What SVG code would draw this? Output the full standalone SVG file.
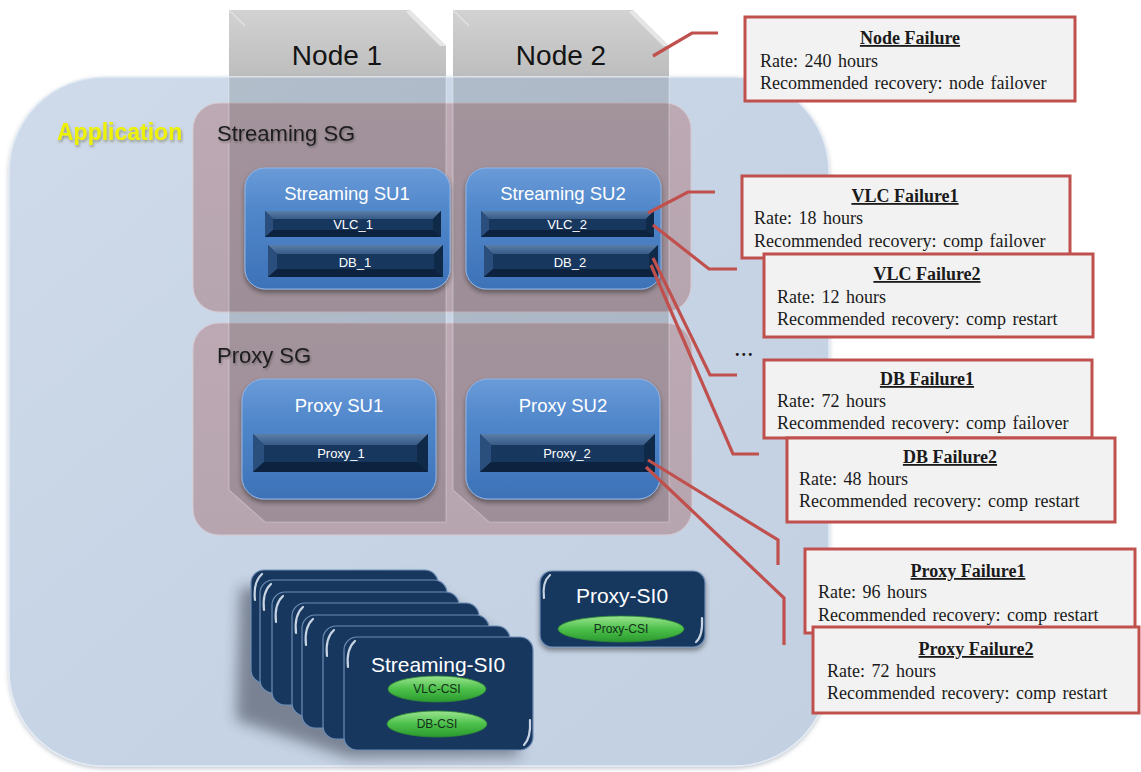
<svg xmlns="http://www.w3.org/2000/svg" width="1141" height="772" viewBox="0 0 1141 772">
  <defs>
    <linearGradient id="gNodeTop" x1="0" y1="0" x2="0" y2="1">
      <stop offset="0" stop-color="#d2d2d2"/>
      <stop offset="1" stop-color="#b0b0b0"/>
    </linearGradient>
    <linearGradient id="gApp" x1="0" y1="0" x2="1" y2="1">
      <stop offset="0" stop-color="#cfdbea"/>
      <stop offset="0.5" stop-color="#c7d4e5"/>
      <stop offset="1" stop-color="#c3d0e1"/>
    </linearGradient>
    <linearGradient id="gSG" x1="0" y1="0" x2="0" y2="1">
      <stop offset="0" stop-color="#bca9b3"/>
      <stop offset="1" stop-color="#b6a4ae"/>
    </linearGradient>
    <linearGradient id="gSU" x1="0" y1="0" x2="0" y2="1">
      <stop offset="0" stop-color="#6a9bd8"/>
      <stop offset="0.35" stop-color="#5087cb"/>
      <stop offset="1" stop-color="#3d72b8"/>
    </linearGradient>
    <linearGradient id="gBarTop" x1="0" y1="0" x2="0" y2="1">
      <stop offset="0" stop-color="#5a7ea8"/>
      <stop offset="1" stop-color="#375b86"/>
    </linearGradient>
    <linearGradient id="gCSI" x1="0" y1="0" x2="0" y2="1">
      <stop offset="0" stop-color="#9be48f"/>
      <stop offset="0.5" stop-color="#4cc04a"/>
      <stop offset="1" stop-color="#2a9a2e"/>
    </linearGradient>
    <filter id="fShadow" x="-20%" y="-20%" width="140%" height="150%">
      <feDropShadow dx="0" dy="3" stdDeviation="2.5" flood-color="#000" flood-opacity="0.4"/>
    </filter>
    <filter id="fSoft" x="-20%" y="-20%" width="140%" height="140%">
      <feDropShadow dx="0" dy="2" stdDeviation="2" flood-color="#5a6a80" flood-opacity="0.35"/>
    </filter>
    <filter id="fStackShadow" x="-40%" y="-40%" width="180%" height="180%">
      <feGaussianBlur stdDeviation="7"/>
    </filter>
    <filter id="fGlow" x="-10%" y="-30%" width="120%" height="160%">
      <feDropShadow dx="1" dy="2" stdDeviation="1.5" flood-color="#6b6b40" flood-opacity="0.6"/>
    </filter>
    <filter id="fTextShadow" x="-10%" y="-30%" width="120%" height="160%">
      <feDropShadow dx="1" dy="1.5" stdDeviation="1" flood-color="#000" flood-opacity="0.3"/>
    </filter>
    <style>
      .sans { font-family: "Liberation Sans", Arial, sans-serif; }
      .serif { font-family: "Liberation Serif", "Times New Roman", serif; }
      .nodeLabel { font-size: 28px; fill: #141414; text-anchor: middle; }
      .sgLabel { font-size: 22px; fill: #1e1e1e; }
      .suLabel { font-size: 18.5px; fill: #ffffff; text-anchor: middle; }
      .compLabel { font-size: 13px; fill: #ffffff; text-anchor: middle; }
      .siLabel { font-size: 21px; fill: #ffffff; text-anchor: middle; }
      .csiLabel { font-size: 12px; fill: #13301a; text-anchor: middle; }
      .su { fill: url(#gSU); stroke: #8db4e6; stroke-width: 1; }
      .barBase { fill: #17375e; }
      .barTop { fill: url(#gBarTop); }
      .barLeft { fill: #2a4f7c; }
      .barRight { fill: #0f2949; }
      .barBottom { fill: #0c223f; }
      .card { fill: #17375e; stroke: #6e8db5; stroke-width: 1.2; }
      .gleam { fill: none; stroke: #e8f0fa; stroke-width: 2.2; stroke-linecap: round; opacity: 0.85; }
      .csi { fill: url(#gCSI); stroke: #2e8a33; stroke-width: 0.8; }
      .box { fill: #f2f2f2; stroke: #c0504d; stroke-width: 3; }
      .boxTitle { font-size: 18px; font-weight: bold; text-decoration: underline; fill: #1a1a1a; text-anchor: middle; }
      .boxText { font-size: 18px; fill: #1a1a1a; word-spacing: 2px; }
      .link { fill: none; stroke: #c0504d; stroke-width: 3.2; stroke-linejoin: miter; }
      .colOverlay { fill: #000000; fill-opacity: 0.13; stroke: #ffffff; stroke-opacity: 0.28; stroke-width: 1.2; }
    </style>
  </defs>

  <rect width="1141" height="772" fill="#ffffff"/>

  <!-- Node columns: header part above the application area -->
  <g id="node1">
    <polygon points="229,10 410,10 446,46 446,120 229,120" fill="url(#gNodeTop)"/>
    <polygon points="410,10 446,46 440,46 406,12" fill="#e6e6e6"/>
    <line x1="229" y1="10" x2="245" y2="26" stroke="#e2e2e2" stroke-width="1.5"/>
    <text class="sans nodeLabel" x="337" y="65">Node 1</text>
  </g>
  <g id="node2">
    <polygon points="453,10 633,10 669,46 669,120 453,120" fill="url(#gNodeTop)"/>
    <polygon points="633,10 669,46 663,46 629,12" fill="#e6e6e6"/>
    <line x1="453" y1="10" x2="469" y2="26" stroke="#e2e2e2" stroke-width="1.5"/>
    <text class="sans nodeLabel" x="561" y="65">Node 2</text>
  </g>

  <!-- Application container -->
  <g id="application">
    <rect x="9" y="77" width="820" height="689" rx="95" ry="95" fill="url(#gApp)" stroke="#e4ecf6" stroke-width="1.5" filter="url(#fSoft)"/>
    <text class="sans" x="57" y="140" font-size="23" font-weight="bold" fill="#eef200" filter="url(#fGlow)">Application</text>
  </g>

  <!-- Service groups -->
  <g id="streaming-sg">
    <rect x="193" y="103" width="498" height="209" rx="26" ry="26" fill="url(#gSG)" stroke="#d6c9d0" stroke-width="1"/>
  </g>
  <g id="proxy-sg">
    <rect x="193" y="323" width="499" height="212" rx="26" ry="26" fill="url(#gSG)" stroke="#d6c9d0" stroke-width="1"/>
  </g>

  <!-- Node columns continuing over the groups -->
  <g id="node-columns">
    <polygon class="colOverlay" points="229,77 446,77 446,522 265,522 229,490"/>
    <polygon class="colOverlay" points="453,77 669,77 669,522 489,522 453,490"/>
  </g>

  <g id="sg-labels">
    <text class="sans sgLabel" x="217" y="141" filter="url(#fTextShadow)">Streaming SG</text>
    <text class="sans sgLabel" x="217" y="363" filter="url(#fTextShadow)">Proxy SG</text>
  </g>

  <!-- Service units -->
  <g id="streaming-su1">
    <rect class="su" x="245" y="168" width="205" height="121" rx="20" ry="20" filter="url(#fShadow)"/>
    <text class="sans suLabel" x="347" y="200">Streaming SU1</text>
    <g id="vlc1">
      <rect class="barBase" x="265" y="211" width="176" height="26"/>
      <polygon class="barTop" points="265,211 441,211 433,219 273,219"/>
      <polygon class="barLeft" points="265,211 273,219 273,230 265,237"/>
      <polygon class="barRight" points="441,211 441,237 433,230 433,219"/>
      <polygon class="barBottom" points="265,237 273,230 433,230 441,237"/>
      <text class="sans compLabel" x="353" y="229">VLC_1</text>
    </g>
    <g id="db1">
      <rect class="barBase" x="268" y="245" width="175" height="32"/>
      <polygon class="barTop" points="268,245 443,245 434,254 277,254"/>
      <polygon class="barLeft" points="268,245 277,254 277,269 268,277"/>
      <polygon class="barRight" points="443,245 443,277 434,269 434,254"/>
      <polygon class="barBottom" points="268,277 277,269 434,269 443,277"/>
      <text class="sans compLabel" x="355" y="267">DB_1</text>
    </g>
  </g>

  <g id="streaming-su2">
    <rect class="su" x="466" y="168" width="195" height="121" rx="20" ry="20" filter="url(#fShadow)"/>
    <text class="sans suLabel" x="563" y="200">Streaming SU2</text>
    <g id="vlc2">
      <rect class="barBase" x="481" y="211" width="173" height="26"/>
      <polygon class="barTop" points="481,211 654,211 646,219 489,219"/>
      <polygon class="barLeft" points="481,211 489,219 489,230 481,237"/>
      <polygon class="barRight" points="654,211 654,237 646,230 646,219"/>
      <polygon class="barBottom" points="481,237 489,230 646,230 654,237"/>
      <text class="sans compLabel" x="567" y="229">VLC_2</text>
    </g>
    <g id="db2">
      <rect class="barBase" x="484" y="245" width="174" height="32"/>
      <polygon class="barTop" points="484,245 658,245 649,254 493,254"/>
      <polygon class="barLeft" points="484,245 493,254 493,269 484,277"/>
      <polygon class="barRight" points="658,245 658,277 649,269 649,254"/>
      <polygon class="barBottom" points="484,277 493,269 649,269 658,277"/>
      <text class="sans compLabel" x="570" y="267">DB_2</text>
    </g>
  </g>

  <g id="proxy-su1">
    <rect class="su" x="242" y="379" width="194" height="120" rx="22" ry="22" filter="url(#fShadow)"/>
    <text class="sans suLabel" x="339" y="412">Proxy SU1</text>
    <g id="proxy1">
      <rect class="barBase" x="253" y="434" width="175" height="38"/>
      <polygon class="barTop" points="253,434 428,434 417,445 264,445"/>
      <polygon class="barLeft" points="253,434 264,445 264,462 253,472"/>
      <polygon class="barRight" points="428,434 428,472 417,462 417,445"/>
      <polygon class="barBottom" points="253,472 264,462 417,462 428,472"/>
      <text class="sans compLabel" x="341" y="458" font-size="14">Proxy_1</text>
    </g>
  </g>

  <g id="proxy-su2">
    <rect class="su" x="466" y="379" width="194" height="120" rx="22" ry="22" filter="url(#fShadow)"/>
    <text class="sans suLabel" x="563" y="412">Proxy SU2</text>
    <g id="proxy2">
      <rect class="barBase" x="480" y="434" width="175" height="38"/>
      <polygon class="barTop" points="480,434 655,434 644,445 491,445"/>
      <polygon class="barLeft" points="480,434 491,445 491,462 480,472"/>
      <polygon class="barRight" points="655,434 655,472 644,462 644,445"/>
      <polygon class="barBottom" points="480,472 491,462 644,462 655,472"/>
      <text class="sans compLabel" x="567" y="458" font-size="14">Proxy_2</text>
    </g>
  </g>

  <!-- Service instances -->
  <g id="streaming-si-stack">
    <path d="M240,588 L420,580 L500,640 L520,756 L350,758 L236,720 Z" fill="#1b2330" opacity="0.45" filter="url(#fStackShadow)"/>
    <rect class="card" x="251" y="570" width="187" height="113" rx="13"/>
    <path class="gleam" d="M255,600 Q253,582 262,574"/>
    <rect class="card" x="260" y="580" width="187" height="113" rx="13"/>
    <path class="gleam" d="M264,610 Q262,592 271,584"/>
    <rect class="card" x="272" y="592" width="187" height="113" rx="13"/>
    <path class="gleam" d="M276,622 Q274,604 283,596"/>
    <rect class="card" x="292" y="603" width="187" height="113" rx="13"/>
    <path class="gleam" d="M296,633 Q294,615 303,607"/>
    <rect class="card" x="302" y="615" width="187" height="113" rx="13"/>
    <path class="gleam" d="M306,645 Q304,627 313,619"/>
    <rect class="card" x="323" y="626" width="187" height="113" rx="13"/>
    <path class="gleam" d="M327,656 Q325,638 334,630"/>
  </g>
  <g id="streaming-si0">
    <rect class="card" x="344" y="637" width="189" height="113" rx="13"/>
    <path class="gleam" d="M348,667 Q346,649 355,641"/>
    <path class="gleam" d="M530,720 Q531,738 524,745"/>
    <text class="sans siLabel" x="438" y="672">Streaming-SI0</text>
    <ellipse class="csi" cx="437" cy="689" rx="49" ry="13"/>
    <text class="sans csiLabel" x="437" y="693">VLC-CSI</text>
    <ellipse class="csi" cx="437" cy="724" rx="50" ry="13"/>
    <text class="sans csiLabel" x="437" y="728">DB-CSI</text>
  </g>
  <g id="proxy-si0">
    <rect class="card" x="540" y="571" width="165" height="76" rx="12" filter="url(#fShadow)"/>
    <path class="gleam" d="M544,598 Q542,582 550,575"/>
    <path class="gleam" d="M702,618 Q703,636 696,642"/>
    <text class="sans siLabel" x="622" y="603">Proxy-SI0</text>
    <ellipse class="csi" cx="621" cy="629" rx="63" ry="13"/>
    <text class="sans csiLabel" x="621" y="633">Proxy-CSI</text>
  </g>

  <!-- Connectors from components to failure notes -->
  <g id="connectors">
    <polyline class="link" points="653,56 692,33 718,33"/>
    <polyline class="link" points="648,213 688,192 715,192"/>
    <polyline class="link" points="653,225 709,269 737,269"/>
    <polyline class="link" points="653,258 710,375 737,375"/>
    <polyline class="link" points="651,265 733,454 759,454"/>
    <polyline class="link" points="648,460 778,540 778,565"/>
    <polyline class="link" points="646,467 784,598 784,645"/>
  </g>

  <text class="serif" x="735" y="356" font-size="18" font-weight="bold" fill="#1a1a1a" letter-spacing="2">...</text>

  <!-- Failure notes -->
  <g id="node-failure">
    <rect class="box" x="745" y="17" width="330" height="84"/>
    <text class="serif boxTitle" x="910" y="44">Node Failure</text>
    <text class="serif boxText" x="760" y="67">Rate: 240  hours</text>
    <text class="serif boxText" x="760" y="89">Recommended recovery: node failover</text>
  </g>
  <g id="vlc-failure1">
    <rect class="box" x="742" y="176" width="328" height="82"/>
    <text class="serif boxTitle" x="905" y="202">VLC Failure1</text>
    <text class="serif boxText" x="754" y="224">Rate: 18 hours</text>
    <text class="serif boxText" x="754" y="247">Recommended recovery: comp failover</text>
  </g>
  <g id="vlc-failure2">
    <rect class="box" x="764" y="254" width="329" height="83"/>
    <text class="serif boxTitle" x="927" y="280">VLC Failure2</text>
    <text class="serif boxText" x="777" y="303">Rate: 12 hours</text>
    <text class="serif boxText" x="777" y="325">Recommended recovery: comp restart</text>
  </g>
  <g id="db-failure1">
    <rect class="box" x="764" y="360" width="328" height="78"/>
    <text class="serif boxTitle" x="927" y="385">DB Failure1</text>
    <text class="serif boxText" x="777" y="407">Rate: 72 hours</text>
    <text class="serif boxText" x="777" y="429">Recommended recovery: comp failover</text>
  </g>
  <g id="db-failure2">
    <rect class="box" x="787" y="438" width="328" height="84"/>
    <text class="serif boxTitle" x="950" y="463">DB Failure2</text>
    <text class="serif boxText" x="799" y="485">Rate: 48 hours</text>
    <text class="serif boxText" x="799" y="507">Recommended recovery: comp restart</text>
  </g>
  <g id="proxy-failure1">
    <rect class="box" x="805" y="549" width="330" height="84"/>
    <text class="serif boxTitle" x="968" y="577">Proxy Failure1</text>
    <text class="serif boxText" x="818" y="598">Rate: 96 hours</text>
    <text class="serif boxText" x="818" y="621">Recommended recovery: comp restart</text>
  </g>
  <g id="proxy-failure2">
    <rect class="box" x="813" y="627" width="326" height="86"/>
    <text class="serif boxTitle" x="976" y="655">Proxy Failure2</text>
    <text class="serif boxText" x="827" y="677">Rate: 72 hours</text>
    <text class="serif boxText" x="827" y="699">Recommended recovery: comp restart</text>
  </g>
</svg>
